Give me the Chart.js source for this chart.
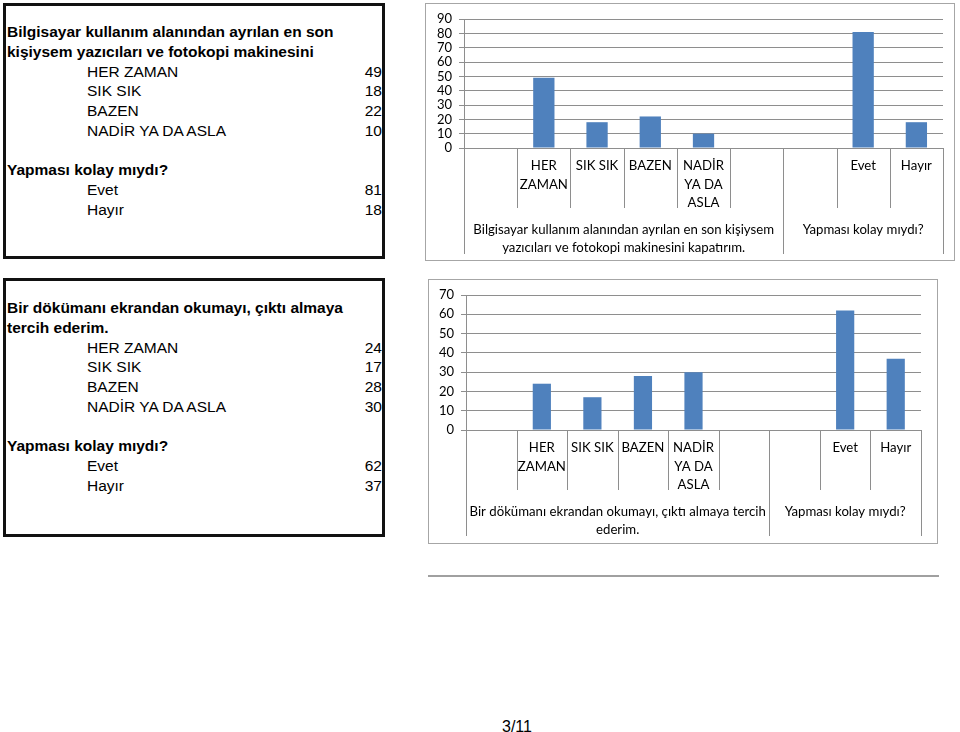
<!DOCTYPE html>
<html>
<head>
<meta charset="utf-8">
<script src="https://cdn.jsdelivr.net/npm/chart.js@4.4.1/dist/chart.umd.min.js"></script>
<style>
  body { margin: 0; width: 960px; height: 732px; background: #fff; position: relative; overflow: hidden;
         font-family: "Liberation Sans", Arial, sans-serif; }
  .box { position: absolute; left: 3px; width: 375px; height: 250px; border: 3px solid #111;
         font-size: 15.5px; line-height: 19.75px; color: #000; padding: 0 0 0 1px; }
  .box .title { font-weight: bold; white-space: nowrap; }
  .box .row { display: flex; justify-content: space-between; padding-left: 80px; }
  .box .gap { height: 19.75px; }
  .frame { position: absolute; border: 1px solid #a6a6a6; }
  .frame canvas { display: block; }
  #rule { position: absolute; left: 428px; top: 575px; width: 511px; height: 2px; background: #a0a0a0; }
  #page { position: absolute; left: 502px; top: 718px; font-size: 16px; }
</style>
</head>
<body>
<div class="box" id="box1" style="top:3px; padding-top:16px; height:234px;"></div>
<div class="box" id="box2" style="top:278px; padding-top:17px; height:236px;"></div>

<div class="frame" style="left:425px; top:3px;"><canvas id="chart1" width="528" height="256"></canvas></div>
<div class="frame" style="left:428px; top:279px;"><canvas id="chart2" width="508" height="263"></canvas></div>
<div id="rule"></div>
<div id="page">3/11</div>

<script>
// answers and values
const freqNames = ["HER ZAMAN", "SIK SIK", "BAZEN", "NADİR YA DA ASLA"];
const freqAxis = [["HER", "ZAMAN"], "SIK SIK", "BAZEN", ["NADİR", "YA DA", "ASLA"]];
const easyNames = ["Evet", "Hayır"];

const question1 = ["Bilgisayar kullanım alanından ayrılan en son", "kişiysem yazıcıları ve fotokopi makinesini"];
const question1Axis = ["Bilgisayar kullanım alanından ayrılan en son kişiysem", "yazıcıları ve fotokopi makinesini kapatırım."];
const question2 = ["Bir dökümanı ekrandan okumayı, çıktı almaya", "tercih ederim."];
const question2Axis = ["Bir dökümanı ekrandan okumayı, çıktı almaya tercih", "ederim."];
const easyQuestion = "Yapması kolay mıydı?";

const freq1 = [49, 18, 22, 10];
const easy1 = [81, 18];
const freq2 = [24, 17, 28, 30];
const easy2 = [62, 37];

const yMax1 = 90;
const yMax2 = 70;

const blue = "#4f81bd";
const lineGray = "#8e8e8e";
const axisFont = { family: "Lato, 'Open Sans', sans-serif", size: 13.2 };

// left text boxes
function fillBox(id, title, names, values, names2, values2) {
  const box = document.getElementById(id);
  let html = title.map(t => `<div class="title">${t}</div>`).join("");
  names.forEach((n, i) => { html += `<div class="row"><span>${n}</span><span>${values[i]}</span></div>`; });
  html += `<div class="gap"></div><div class="title">${easyQuestion}</div>`;
  names2.forEach((n, i) => { html += `<div class="row"><span>${n}</span><span>${values2[i]}</span></div>`; });
  box.innerHTML = html;
}
fillBox("box1", question1, freqNames, freq1, easyNames, easy1);
fillBox("box2", question2, freqNames, freq2, easyNames, easy2);

// excel style multi level category axis
const groupAxis = {
  id: "groupAxis",
  afterDraw(chart, args, opts) {
    const x = chart.scales.x;
    const ctx = chart.ctx;
    const y0 = x.top;
    const n = chart.data.labels.length;
    let ends = [0];
    opts.sizes.forEach(s => ends.push(ends[ends.length - 1] + s));
    ctx.save();
    ctx.strokeStyle = lineGray;
    ctx.lineWidth = 1;
    for (let i = 0; i <= n; i++) {
      const px = Math.round(x.getPixelForValue(i - 0.5)) + 0.5;
      const len = ends.includes(i) ? opts.longLen : opts.shortLen;
      ctx.beginPath();
      ctx.moveTo(px, y0);
      ctx.lineTo(px, y0 + len);
      ctx.stroke();
    }
    ctx.fillStyle = "#000";
    ctx.font = axisFont.size + "px " + axisFont.family;
    ctx.textAlign = "center";
    ctx.textBaseline = "middle";
    opts.titles.forEach((lines, g) => {
      const cx = (x.getPixelForValue(ends[g] - 0.5) + x.getPixelForValue(ends[g + 1] - 0.5)) / 2;
      lines.forEach((t, k) => ctx.fillText(t, cx, y0 + opts.titleY + k * 18));
    });
    ctx.restore();
  }
};

function makeChart(id, freq, easy, yMax, barPct, axisW, axisH, pad, titles) {
  const labels = ["", ...freqAxis, "", "", ...easyNames];
  const data = [null, ...freq, null, null, ...easy];
  return new Chart(document.getElementById(id), {
    type: "bar",
    data: {
      labels: labels,
      datasets: [{ data: data, backgroundColor: blue, barPercentage: barPct, categoryPercentage: 1 }]
    },
    options: {
      responsive: false,
      animation: false,
      layout: { padding: pad },
      plugins: {
        legend: { display: false },
        tooltip: { enabled: false },
        groupAxis: { sizes: [6, 3], shortLen: 60, longLen: 106, titleY: 81.5, titles: titles }
      },
      scales: {
        x: {
          grid: { display: false, drawTicks: false },
          border: { color: lineGray },
          ticks: { color: "#000", font: { ...axisFont, lineHeight: 1.38 }, padding: 9, autoSkip: false, maxRotation: 0 },
          afterFit: s => { s.height = axisH; }
        },
        y: {
          min: 0, max: yMax,
          grid: { color: lineGray, drawTicks: true, tickLength: 5 },
          border: { color: lineGray },
          ticks: { stepSize: 10, color: "#000", font: { ...axisFont, size: 13 }, padding: 7, autoSkip: false },
          afterFit: s => { s.width = axisW; }
        }
      }
    },
    plugins: [groupAxis]
  });
}

makeChart("chart1", freq1, easy1, yMax1, 0.4, 38, 112, { top: 15, right: 11, left: 0, bottom: 0 },
  [question1Axis, [easyQuestion]]);
makeChart("chart2", freq2, easy2, yMax2, 0.36, 37, 113, { top: 15, right: 16, left: 0, bottom: 0 },
  [question2Axis, [easyQuestion]]);
</script>
</body>
</html>
